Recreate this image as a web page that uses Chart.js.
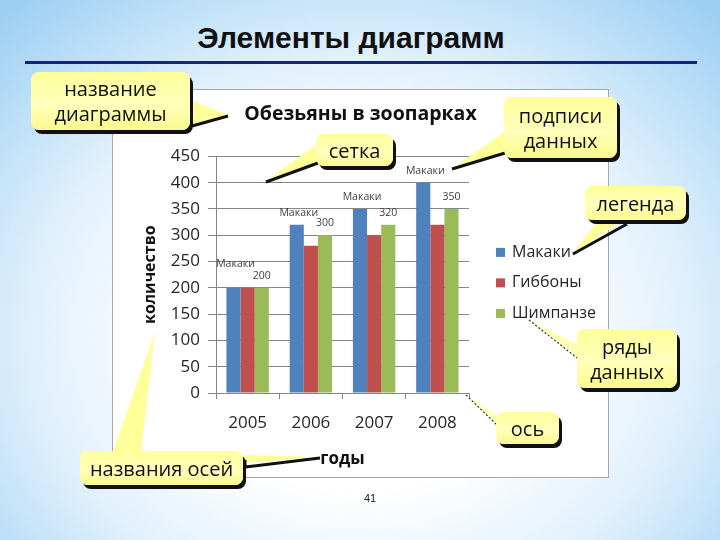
<!DOCTYPE html>
<html>
<head>
<meta charset="utf-8">
<script src="https://cdn.jsdelivr.net/npm/chart.js@4.4.0/dist/chart.umd.min.js"></script>
<style>
  html, body { margin: 0; padding: 0; }
  body {
    width: 720px; height: 540px; overflow: hidden; position: relative;
    background: radial-gradient(ellipse 72% 82% at 50% 62%, #ffffff 35%, #e2f1fc 62%, #9ccff3 100%);
    font-family: "Open Sans", sans-serif;
  }
  #slideTitle { position: absolute; left: 0; width: 702px; top: 21px; text-align: center;
    font: bold 30px "Liberation Sans", Arial, sans-serif; color: #111; }
  #rule { position: absolute; left: 25px; top: 61px; width: 672px; height: 3px; background: #16247a; }
  #box { position: absolute; left: 112px; top: 89px; width: 497px; height: 389px; background: #fff;
    box-sizing: border-box; border: 1px solid #a8a8a8; }
  #chart { position: absolute; left: 112px; top: 89px; }
  svg { position: absolute; left: 0; top: 0; }
  .note { position: absolute; border-radius: 8px; box-shadow: 3px 4px 0 #111;
    background: linear-gradient(180deg, #ffff9a, #ffffbc 55%, #fafa8c);
    font-size: 20px; line-height: 25px; text-align: center; color: #111;
    display: flex; align-items: center; justify-content: center; }
  #pageNo { position: absolute; left: 364px; top: 492px; font: 11px "Liberation Sans", Arial, sans-serif; color: #222; }
</style>
</head>
<body>
<div id="slideTitle">Элементы диаграмм</div>
<div id="rule"></div>
<div id="box"></div>
<canvas id="chart" width="497" height="389"></canvas>

<svg width="720" height="540">
  <!-- большой клин к названию оси -->
  <polygon points="113,452 141,452 155,332" fill="#ffff80" opacity="0.8"/>
  <!-- название диаграммы -->
  <polygon points="190,100 190,124 228,115" fill="#ffff99"/>
  <line x1="192" y1="126" x2="228" y2="116" stroke="#111" stroke-width="3"/>
  <!-- сетка -->
  <polygon points="320,142 320,161 266,181" fill="#ffff99"/>
  <line x1="318" y1="163" x2="266" y2="182" stroke="#111" stroke-width="3"/>
  <!-- подписи данных -->
  <polygon points="507,130 507,150 452,169" fill="#ffff99"/>
  <line x1="505" y1="153" x2="452" y2="169" stroke="#111" stroke-width="3"/>
  <!-- легенда -->
  <polygon points="598,220 624,220 573,253" fill="#ffff99"/>
  <line x1="627" y1="224" x2="573" y2="254" stroke="#111" stroke-width="3"/>
  <!-- ряды данных -->
  <polygon points="529,320 579,345 579,358" fill="#ffff99" opacity="0.7"/>
  <line x1="529" y1="320" x2="577" y2="358" stroke="#333" stroke-width="1.2" stroke-dasharray="2,2"/>
  <!-- ось -->
  <polygon points="466,395 498,416 498,426" fill="#ffff99" opacity="0.7"/>
  <line x1="466" y1="395" x2="497" y2="425" stroke="#333" stroke-width="1.2" stroke-dasharray="2,2"/>
  <!-- названия осей к "годы" -->
  <polygon points="243,455 243,463 320,457" fill="#ffff99"/>
  <polyline points="245,460 245,467 320,458" fill="none" stroke="#111" stroke-width="3"/>
</svg>

<div class="note" style="left:31px;top:72px;width:159px;height:58px;">название<br>диаграммы</div>
<div class="note" style="left:316px;top:134px;width:77px;height:32px;">сетка</div>
<div class="note" style="left:504px;top:97px;width:113px;height:61px;">подписи<br>данных</div>
<div class="note" style="left:585px;top:186px;width:101px;height:34px;">легенда</div>
<div class="note" style="left:577px;top:329px;width:100px;height:59px;">ряды<br>данных</div>
<div class="note" style="left:496px;top:412px;width:63px;height:32px;">ось</div>
<div class="note" style="left:80px;top:451px;width:163px;height:34px;">названия осей</div>
<div id="pageNo">41</div>

<script>
// Данные диаграммы
const years = ['2005', '2006', '2007', '2008'];
const seriesNames = ['Макаки', 'Гиббоны', 'Шимпанзе'];
const macaques = [200, 320, 350, 400];
const gibbons = [200, 280, 300, 320];
const chimps = [200, 300, 320, 350];
const seriesColors = ['#4F81BD', '#C0504D', '#9BBB59'];

const gridColor = '#868686';
const textColor = '#262626';

// Подписи данных: имя ряда над синими столбцами, значение над зелёными
const dataLabels = {
  id: 'dataLabels',
  afterDatasetsDraw(chart) {
    const ctx = chart.ctx;
    const blue = chart.getDatasetMeta(0).data;
    const green = chart.getDatasetMeta(2).data;
    ctx.save();
    ctx.font = '10.5px "Open Sans"';
    ctx.fillStyle = '#404040';
    ctx.textAlign = 'center';
    ctx.textBaseline = 'middle';
    years.forEach((yr, i) => {
      const gy = green[i].y - 12;
      let by = blue[i].y - 12;
      if (by > gy - 10) by = gy - 12;
      ctx.fillText(chart.data.datasets[0].label, blue[i].x + 2, by);
      ctx.fillText(String(chart.data.datasets[2].data[i]), green[i].x, gy);
    });
    ctx.restore();
  }
};

// Легенда справа от области построения
const sideLegend = {
  id: 'sideLegend',
  afterDraw(chart) {
    const ctx = chart.ctx;
    const area = chart.chartArea;
    ctx.save();
    ctx.font = '16px "Open Sans"';
    ctx.textBaseline = 'middle';
    chart.data.datasets.forEach((ds, i) => {
      const y = area.top + 96 + i * 30.5;
      ctx.fillStyle = ds.backgroundColor;
      ctx.fillRect(area.right + 27, y - 4.5, 9, 9);
      ctx.fillStyle = textColor;
      ctx.fillText(ds.label, area.right + 43, y);
    });
    ctx.restore();
  }
};

new Chart(document.getElementById('chart'), {
  type: 'bar',
  data: {
    labels: years,
    datasets: [
      { label: seriesNames[0], data: macaques, backgroundColor: seriesColors[0] },
      { label: seriesNames[1], data: gibbons, backgroundColor: seriesColors[1] },
      { label: seriesNames[2], data: chimps, backgroundColor: seriesColors[2] }
    ]
  },
  options: {
    responsive: false,
    animation: false,
    categoryPercentage: 0.67,
    barPercentage: 1.0,
    plugins: {
      legend: { display: false },
      tooltip: { enabled: false },
      title: {
        display: true,
        text: 'Обезьяны в зоопарках',
        color: '#111',
        font: { family: 'Open Sans', size: 19.5, weight: 'bold' },
        padding: { top: 14, bottom: 30 }
      }
    },
    scales: {
      x: {
        grid: { drawOnChartArea: false, drawTicks: true, tickLength: 6, color: gridColor, offset: true },
        border: { color: gridColor },
        ticks: { color: textColor, padding: 14, font: { family: 'Open Sans', size: 17 } },
        title: {
          display: true, text: 'годы', color: '#111',
          font: { family: 'Open Sans', size: 17, weight: 'bold' },
          padding: { top: 0, bottom: 9 }
        },
        afterFit(scale) { scale.height = 85; }
      },
      y: {
        min: 0, max: 450,
        ticks: { stepSize: 50, color: textColor, padding: 8, font: { family: 'Open Sans', size: 17 } },
        grid: { color: gridColor, tickLength: 8 },
        border: { color: gridColor },
        title: {
          display: true, text: 'количество', color: '#111',
          font: { family: 'Open Sans', size: 16, weight: 'bold' },
          padding: { top: 29, bottom: 0 }
        },
        afterFit(scale) { scale.width = 104; }
      },
      // пустая правая ось — место под легенду
      legendSpace: {
        type: 'linear',
        position: 'right',
        grid: { display: false },
        border: { display: false },
        ticks: { display: false },
        afterFit(scale) { scale.width = 140; }
      }
    }
  },
  plugins: [dataLabels, sideLegend]
});
</script>
</body>
</html>
